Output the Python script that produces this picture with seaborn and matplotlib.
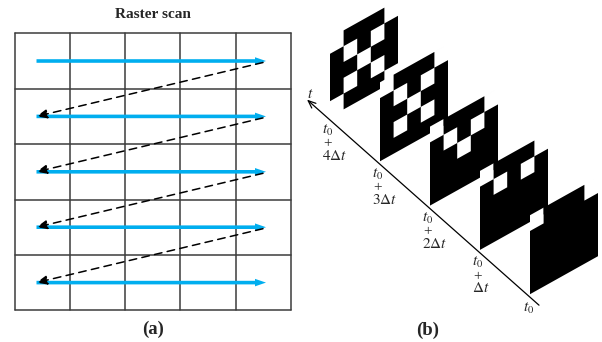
import matplotlib.pyplot as plt
from matplotlib.patches import Polygon, PathPatch
from matplotlib.path import Path
import seaborn as sns

# panel (a): raster scan grid, one blue scan line per row
grid_cols = 5
grid_rows = 5
scan_rows = [0, 1, 2, 3, 4]

# panel (b): 5x5 picture of an "X" (1 = white pixel), top row first
x_pattern = [
    [1, 0, 0, 0, 1],
    [0, 1, 0, 1, 0],
    [0, 0, 1, 0, 0],
    [0, 1, 0, 1, 0],
    [1, 0, 0, 0, 1],
]
# rows of the picture already drawn in each frame, back frame (t0+4dt) to front (t0)
frame_rows_shown = [5, 4, 3, 2, 1]
frame_labels = [r"$4\Delta t$", r"$3\Delta t$", r"$2\Delta t$", r"$\Delta t$"]

sns.set_theme(style="white")
plt.rcParams["font.family"] = ["Liberation Serif", "DejaVu Serif"]
plt.rcParams["mathtext.fontset"] = "stix"

fig = plt.figure(figsize=(6.02, 3.42), dpi=100)
ax = fig.add_axes([0, 0, 1, 1])
ax.set_xlim(0, 602)
ax.set_ylim(342, 0)
ax.axis("off")

blue = "#00AEEF"
grid_color = "#3c3c3c"

# ---- panel (a) ----
left, top, cw, ch = 14.5, 33.3, 55.3, 55.4
right = left + grid_cols * cw
bottom = top + grid_rows * ch
for i in range(grid_cols + 1):
    ax.plot([left + i * cw] * 2, [top, bottom], color=grid_color, lw=1.1, zorder=1)
for j in range(grid_rows + 1):
    ax.plot([left, right], [top + j * ch] * 2, color=grid_color, lw=1.1, zorder=1)

x_start, x_end = 36.5, 266
for r in scan_rows:
    y = top + (r + 0.5) * ch
    ax.arrow(x_start, y, x_end - x_start, 0, width=3.6, head_width=7.5,
             head_length=11, length_includes_head=True, color=blue, lw=0, zorder=2)
    if r + 1 < len(scan_rows):
        y_next = top + (r + 1.5) * ch
        ax.annotate("", xy=(x_start, y_next), xytext=(x_end - 3, y + 1.5),
                    arrowprops=dict(arrowstyle="-|>,head_length=0.7,head_width=0.3",
                                    color="black", lw=1.1, linestyle=(0, (5, 3.5)),
                                    shrinkA=0, shrinkB=0, mutation_scale=9),
                    zorder=3)

ax.text((left + right) / 2, 15, "Raster scan", ha="center", va="center",
        fontsize=11, fontweight="bold")
ax.text((left + right) / 2, 329, "(a)", ha="center", va="center",
        fontsize=13.5, fontweight="bold")

# ---- panel (b) ----
bx, by = 330, 117          # bottom-left corner of the back frame
step_x, step_y = 50, 44.3  # offset between frames along the time axis
pw, ph, sl = 13.6, 15.8, 7.6  # pixel width, height and slant per column
n = len(x_pattern)


def quad(x0, y0, u, v, du=1, dv=1):
    xl, xr = x0 + u * pw, x0 + (u + du) * pw
    yl = y0 - u * sl - v * ph
    yr = y0 - (u + du) * sl - v * ph
    return [(xl, yl), (xr, yr), (xr, yr - dv * ph), (xl, yl - dv * ph)]


ring = [Path.MOVETO, Path.LINETO, Path.LINETO, Path.LINETO, Path.CLOSEPOLY]

for k, shown in enumerate(frame_rows_shown):
    x0, y0 = bx + k * step_x, by + k * step_y
    holes = [quad(x0, y0, u, n - 1 - r)
             for r in range(shown) for u in range(n) if x_pattern[r][u]]
    # white pixels hide the frame behind
    for h in holes:
        ax.add_patch(Polygon(h, closed=True, fc="white", lw=0, zorder=4 + k))
    # black frame as one path, white pixels cut out as holes
    verts, codes = [], []
    outer = quad(x0, y0, 0, 0, n, n)
    verts += outer + [outer[0]]
    codes += ring
    for h in holes:
        rev = h[::-1]
        verts += rev + [rev[0]]
        codes += ring
    ax.add_patch(PathPatch(Path(verts, codes), fc="black", lw=0, zorder=4.5 + k))

# time axis
t_from, t_to = -0.46, 4.18
ax.annotate("", xy=(bx + t_from * step_x, by + 3 + t_from * step_y),
            xytext=(bx + t_to * step_x, by + 3 + t_to * step_y),
            arrowprops=dict(arrowstyle="->,head_length=0.6,head_width=0.25",
                            color="black", lw=0.9, shrinkA=0, shrinkB=0,
                            mutation_scale=9), zorder=20)
ax.text(310, 94, r"$t$", ha="center", va="center", fontsize=11)

for k, lab in enumerate(frame_labels):
    lx, ly = bx - 8 + k * step_x, by + 13 + k * step_y
    ax.text(lx, ly, r"$t_0$", ha="left", va="center", fontsize=11)
    ax.text(lx + 1, ly + 13.5, "+", ha="left", va="center", fontsize=11)
    ax.text(lx, ly + 25.5, lab, ha="left", va="center", fontsize=11)
ax.text(523, 308, r"$t_0$", ha="left", va="center", fontsize=11)

ax.text(428, 330, "(b)", ha="center", va="center", fontsize=13.5, fontweight="bold")

fig.savefig("out.png", dpi=100, facecolor="white")
